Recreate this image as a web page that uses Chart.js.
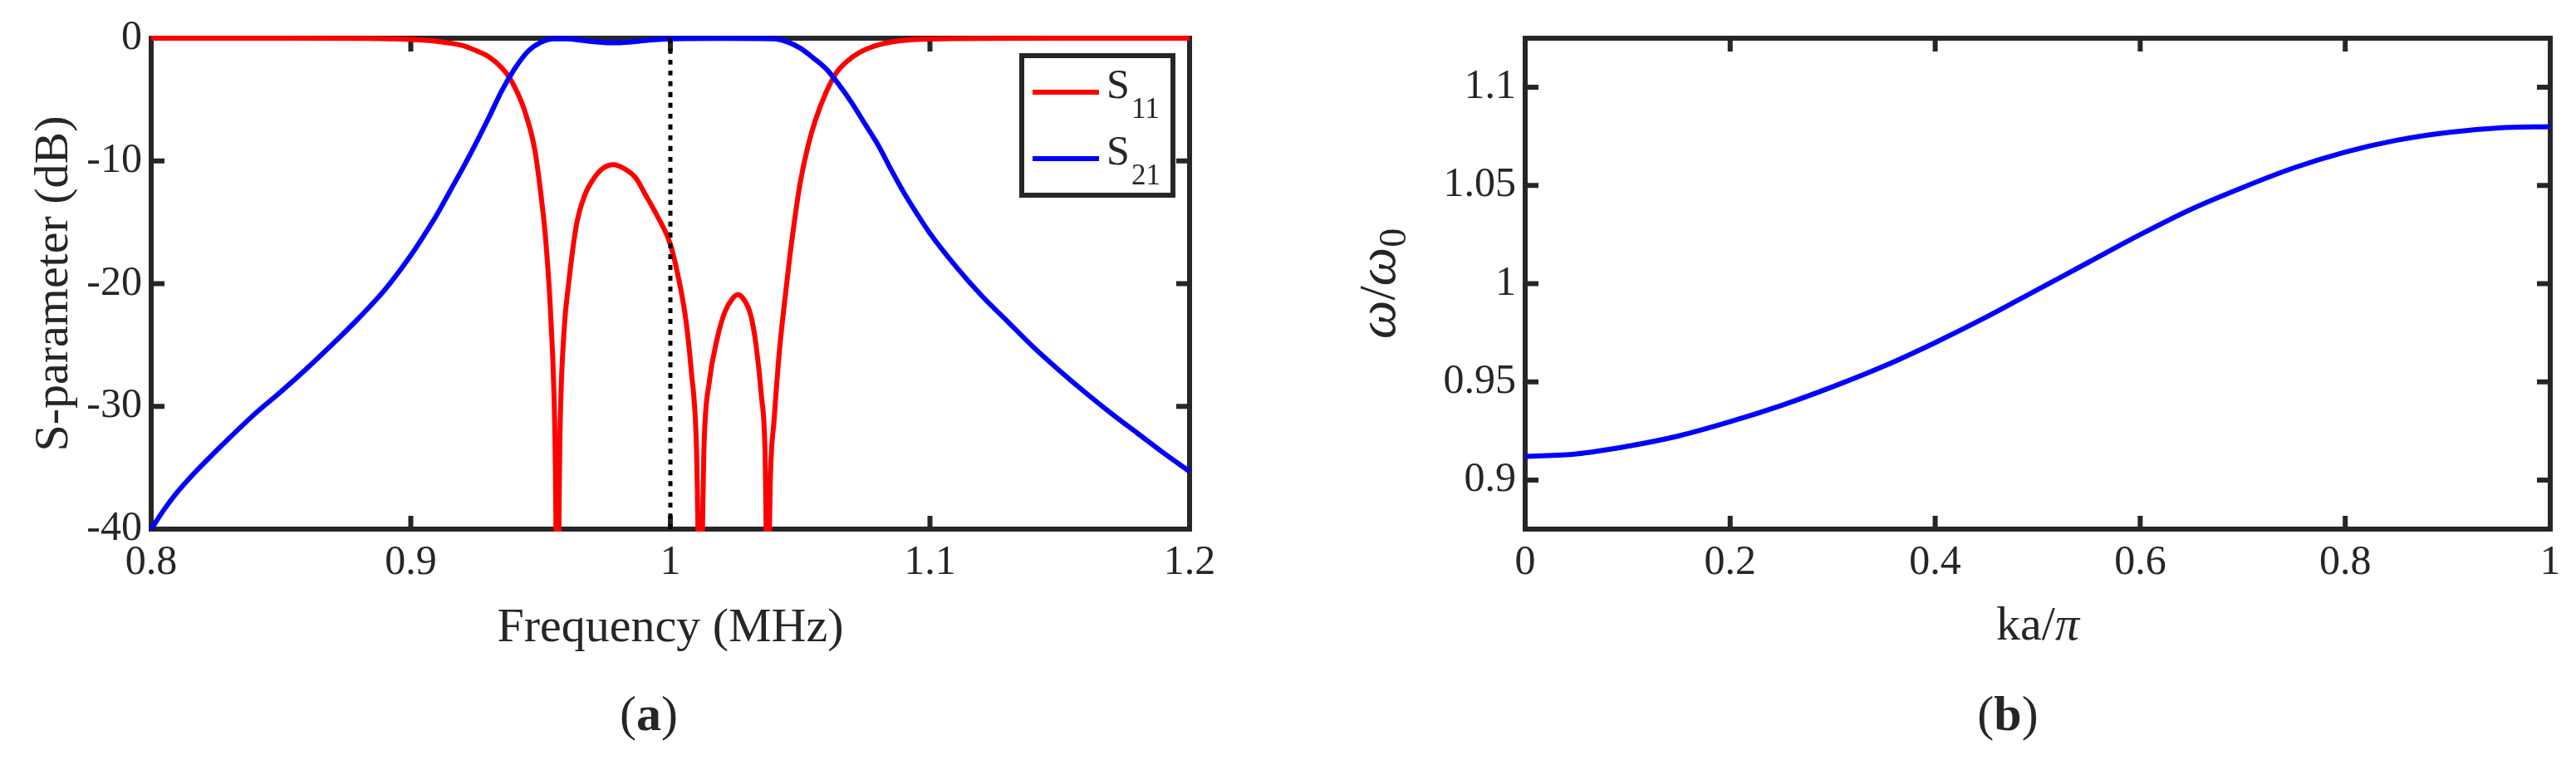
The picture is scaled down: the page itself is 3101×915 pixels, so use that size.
<!DOCTYPE html>
<html>
<head>
<meta charset="utf-8">
<script src="https://cdn.jsdelivr.net/npm/chart.js@4.4.1/dist/chart.umd.min.js"></script>
<style>
  html, body { margin: 0; padding: 0; background: #fff; }
  #wrapA { position: absolute; left: 0; top: 0; width: 1560px; height: 915px; }
  #wrapB { position: absolute; left: 1560px; top: 0; width: 1541px; height: 915px; }
</style>
</head>
<body>
<div id="wrapA"><canvas id="chartA" width="1560" height="915"></canvas></div>
<div id="wrapB"><canvas id="chartB" width="1541" height="915"></canvas></div>
<script>
// (a) S-parameters
const freqS11 = [0.800, 0.850, 0.880, 0.900, 0.910, 0.920, 0.925, 0.930, 0.935, 0.938, 0.941, 0.944, 0.9477, 0.950, 0.952, 0.954, 0.9555, 0.9565, 0.9575, 0.959, 0.9608, 0.964, 0.967, 0.9706, 0.974, 0.978, 0.982, 0.9867, 0.990, 0.995, 1.000, 1.003, 1.006, 1.008, 1.010, 1.0115, 1.013, 1.015, 1.018, 1.021, 1.024, 1.026, 1.028, 1.031, 1.033, 1.035, 1.0365, 1.0375, 1.0385, 1.040, 1.042, 1.044, 1.046, 1.048, 1.050, 1.053, 1.056, 1.060, 1.064, 1.068, 1.073, 1.080, 1.088, 1.100, 1.150, 1.200];
const s11 = [0, 0, -0.02, -0.1, -0.25, -0.6, -1.0, -1.5, -2.4, -3.2, -4.4, -6.0, -9.0, -12.5, -16.5, -23, -32, -48, -32, -24, -20, -15, -12.8, -11.4, -10.6, -10.3, -10.6, -11.4, -12.6, -14.5, -16.8, -19.4, -23, -27, -33, -48, -33, -28, -24.5, -22.3, -21.2, -20.9, -21.2, -22.6, -25, -29, -34, -48, -36, -31, -25.5, -21.5, -17.8, -14.6, -11.8, -8.8, -6.6, -4.4, -2.8, -1.9, -1.15, -0.55, -0.22, -0.06, 0, 0];

const freqS21 = [0.800, 0.805, 0.810, 0.815, 0.820, 0.830, 0.840, 0.850, 0.860, 0.870, 0.880, 0.890, 0.900, 0.905, 0.910, 0.915, 0.920, 0.925, 0.930, 0.935, 0.940, 0.945, 0.950, 0.955, 0.960, 0.965, 0.970, 0.977, 0.985, 0.992, 1.000, 1.020, 1.040, 1.045, 1.050, 1.055, 1.060, 1.065, 1.070, 1.075, 1.080, 1.085, 1.090, 1.095, 1.100, 1.110, 1.120, 1.130, 1.140, 1.150, 1.160, 1.170, 1.180, 1.190, 1.200];
const s21 = [-40.0, -38.4, -37.0, -35.8, -34.7, -32.6, -30.6, -28.8, -26.9, -24.9, -22.8, -20.5, -17.7, -16.1, -14.4, -12.5, -10.6, -8.6, -6.5, -4.3, -2.5, -1.1, -0.35, -0.05, -0.05, -0.15, -0.28, -0.38, -0.3, -0.15, -0.05, -0.02, -0.05, -0.3, -0.8, -1.6, -2.5, -3.8, -5.3, -7.0, -8.7, -10.7, -12.6, -14.3, -15.9, -18.6, -21.0, -23.1, -25.2, -27.1, -28.9, -30.6, -32.2, -33.8, -35.3];

// dotted marker at the centre frequency
const markerFreq = [1, 1];
const markerDb = [-40, 0];

const freqTicks = [0.8, 0.9, 1, 1.1, 1.2];
const dbTicks = [-40, -30, -20, -10, 0];

// (b) dispersion curve
const kaOverPi = [0, 0.05, 0.1, 0.15, 0.2, 0.25, 0.3, 0.35, 0.4, 0.45, 0.5, 0.55, 0.6, 0.65, 0.7, 0.75, 0.8, 0.85, 0.9, 0.95, 1];
const omegaRatio = [0.912, 0.9133, 0.9172, 0.9225, 0.9297, 0.938, 0.9475, 0.958, 0.970, 0.983, 0.997, 1.011, 1.025, 1.038, 1.049, 1.059, 1.067, 1.073, 1.077, 1.0793, 1.080];

const kaTicks = [0, 0.2, 0.4, 0.6, 0.8, 1];
const omegaTicks = [0.9, 0.95, 1, 1.05, 1.1];

const AXIS = '#262626';
const SERIF = '"Liberation Serif", "Times New Roman", serif';

const toPoints = (xs, ys) => xs.map((x, i) => ({ x: x, y: ys[i] }));
const fmt = v => String(Math.round(v * 100) / 100);

// box round the plot, ticks pointing inward on all four sides
const framePlugin = {
  id: 'frame',
  beforeDatasetsDraw(chart) {
    const { ctx, chartArea: a, scales } = chart;
    const len = 16;
    ctx.save();
    ctx.strokeStyle = AXIS;
    ctx.lineWidth = 6;
    ctx.beginPath();
    scales.x.ticks.forEach(t => {
      const px = scales.x.getPixelForValue(t.value);
      ctx.moveTo(px, a.bottom); ctx.lineTo(px, a.bottom - len);
      ctx.moveTo(px, a.top); ctx.lineTo(px, a.top + len);
    });
    scales.y.ticks.forEach(t => {
      const py = scales.y.getPixelForValue(t.value);
      ctx.moveTo(a.left, py); ctx.lineTo(a.left + len, py);
      ctx.moveTo(a.right, py); ctx.lineTo(a.right - len, py);
    });
    ctx.stroke();
    ctx.lineJoin = 'miter';
    ctx.strokeRect(a.left, a.top, a.right - a.left, a.bottom - a.top);
    ctx.restore();
  }
};

// MATLAB style legend box with subscripted labels
const boxLegendPlugin = {
  id: 'boxLegend',
  afterDraw(chart, args, opts) {
    if (!opts.show) return;
    const { ctx, chartArea: a } = chart;
    const items = chart.data.datasets.filter(d => d.label);
    const w = 182, h = 168;
    const x0 = a.right - 20 - w, y0 = a.top + 21;
    ctx.save();
    ctx.fillStyle = '#fff';
    ctx.fillRect(x0, y0, w, h);
    ctx.strokeStyle = AXIS;
    ctx.lineWidth = 6;
    ctx.strokeRect(x0, y0, w, h);
    items.forEach((d, i) => {
      const cy = y0 + 44 + i * 80;
      ctx.strokeStyle = d.borderColor;
      ctx.lineWidth = d.borderWidth;
      ctx.beginPath();
      ctx.moveTo(x0 + 13, cy); ctx.lineTo(x0 + 93, cy);
      ctx.stroke();
      ctx.fillStyle = AXIS;
      ctx.textBaseline = 'alphabetic';
      ctx.font = '50px ' + SERIF;
      ctx.fillText(d.label.slice(0, 1), x0 + 102, cy + 7);
      ctx.font = '35px ' + SERIF;
      ctx.fillText(d.label.slice(1), x0 + 132, cy + 31);
    });
    ctx.restore();
  }
};

// titles that mix upright, italic, bold and subscript text
function drawRuns(ctx, runs, x, y) {
  let total = 0;
  runs.forEach(r => { ctx.font = r.font; r.w = ctx.measureText(r.t).width; total += r.w; });
  let cx = x - total / 2;
  runs.forEach(r => {
    ctx.font = r.font;
    ctx.fillText(r.t, cx, y + (r.dy || 0));
    cx += r.w;
  });
}

const captionPlugin = {
  id: 'caption',
  afterDraw(chart, args, opts) {
    const { ctx, chartArea: a } = chart;
    const mid = (a.left + a.right) / 2;
    ctx.save();
    ctx.fillStyle = AXIS;
    ctx.textBaseline = 'middle';
    drawRuns(ctx, [
      { t: '(', font: '60px ' + SERIF },
      { t: opts.letter, font: 'bold 60px ' + SERIF },
      { t: ')', font: '60px ' + SERIF }
    ], mid + opts.dx, a.bottom + 226);
    if (opts.xRuns) drawRuns(ctx, opts.xRuns, mid, a.bottom + 118);
    if (opts.yRuns) {
      ctx.translate(opts.yX, (a.top + a.bottom) / 2);
      ctx.rotate(-Math.PI / 2);
      drawRuns(ctx, opts.yRuns, 0, 0);
    }
    ctx.restore();
  }
};

const tickFont = { family: SERIF, size: 50 };
const titleFont = { family: SERIF, size: 58 };

function linScale(min, max, values, extra) {
  return Object.assign({
    type: 'linear',
    min: min,
    max: max,
    grid: { display: false },
    border: { display: false },
    afterBuildTicks: s => { s.ticks = values.map(v => ({ value: v })); },
    ticks: { color: AXIS, font: tickFont, callback: v => fmt(v) }
  }, extra);
}

const lineDefaults = { pointRadius: 0, cubicInterpolationMode: 'monotone', clip: { left: 3, right: 3, top: 4, bottom: 3 } };

// Renderizar o gráfico (a)
new Chart(document.getElementById('chartA').getContext('2d'), {
  type: 'line',
  data: {
    datasets: [
      { label: 'S11', data: toPoints(freqS11, s11), borderColor: '#ff0000', borderWidth: 6, order: 2 },
      { label: 'S21', data: toPoints(freqS21, s21), borderColor: '#0000ff', borderWidth: 6, order: 1 },
      { data: toPoints(markerFreq, markerDb), borderColor: '#000', borderWidth: 5, borderDash: [6, 7], order: 0 }
    ].map(d => Object.assign({}, lineDefaults, d))
  },
  options: {
    responsive: false,
    animation: false,
    devicePixelRatio: 1,
    layout: { padding: { left: 0, top: 46, right: 128, bottom: 0 } },
    plugins: {
      legend: { display: false },
      tooltip: { enabled: false },
      boxLegend: { show: true },
      caption: { letter: 'a', dx: -26 }
    },
    scales: {
      x: linScale(0.8, 1.2, freqTicks, {
        afterFit: s => { s.height = 278; },
        title: { display: true, text: 'Frequency (MHz)', color: AXIS, font: titleFont, padding: { top: 0, bottom: 123 } }
      }),
      y: linScale(-40, 0, dbTicks, {
        afterFit: s => { s.width = 182; },
        title: { display: true, text: 'S-parameter (dB)', color: AXIS, font: titleFont, padding: { top: 31, bottom: 0 } }
      })
    }
  },
  plugins: [framePlugin, boxLegendPlugin, captionPlugin]
});

// Renderizar o gráfico (b)
new Chart(document.getElementById('chartB').getContext('2d'), {
  type: 'line',
  data: {
    datasets: [
      Object.assign({}, lineDefaults, { data: toPoints(kaOverPi, omegaRatio), borderColor: '#0000ff', borderWidth: 6 })
    ]
  },
  options: {
    responsive: false,
    animation: false,
    devicePixelRatio: 1,
    layout: { padding: { left: 0, top: 46, right: 31, bottom: 0 } },
    plugins: {
      legend: { display: false },
      tooltip: { enabled: false },
      caption: {
        letter: 'b',
        dx: -36,
        xRuns: [
          { t: 'ka/', font: '58px ' + SERIF },
          { t: 'π', font: 'italic 58px ' + SERIF }
        ],
        yX: 102,
        yRuns: [
          { t: 'ω', font: 'italic 66px ' + SERIF },
          { t: '/', font: '62px ' + SERIF },
          { t: 'ω', font: 'italic 66px ' + SERIF },
          { t: '0', font: '46px ' + SERIF, dy: 18 }
        ]
      }
    },
    scales: {
      x: linScale(0, 1, kaTicks, { afterFit: s => { s.height = 278; } }),
      y: linScale(0.875, 1.125, omegaTicks, { afterFit: s => { s.width = 276; } })
    }
  },
  plugins: [framePlugin, captionPlugin]
});
</script>
</body>
</html>
